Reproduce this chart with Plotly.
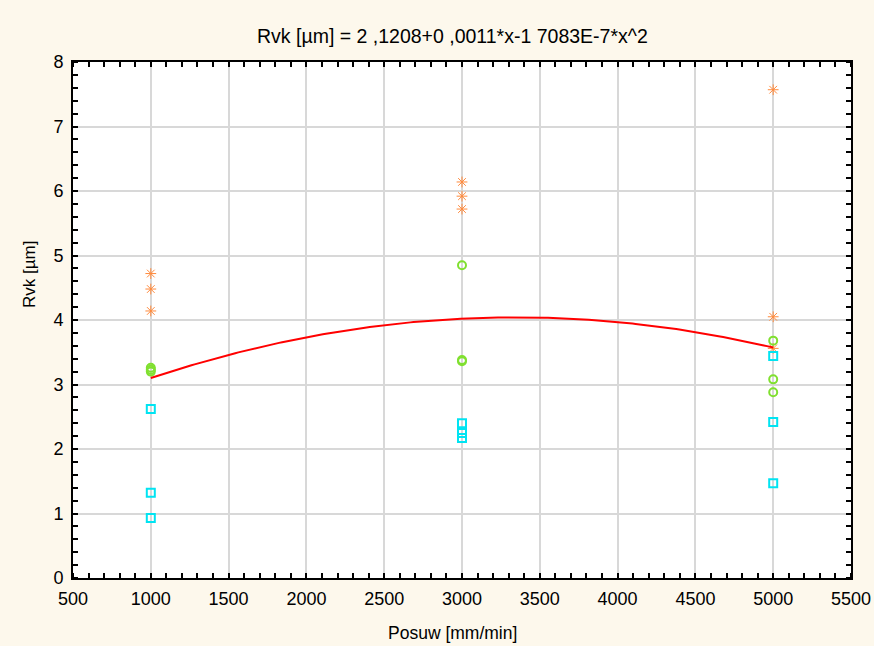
import numpy as np
import plotly.graph_objects as go

# Data
feed_orange = [1000, 1000, 1000, 3000, 3000, 3000, 5000, 5000, 5000]
rvk_orange = [4.72, 4.48, 4.14, 6.14, 5.92, 5.72, 7.57, 4.05, 3.56]

feed_green = [1000, 1000, 1000, 3000, 3000, 3000, 5000, 5000, 5000]
rvk_green = [3.26, 3.23, 3.20, 4.85, 3.38, 3.36, 3.68, 3.08, 2.88]

feed_cyan = [1000, 1000, 1000, 3000, 3000, 3000, 5000, 5000, 5000]
rvk_cyan = [2.62, 1.32, 0.93, 2.40, 2.25, 2.17, 3.44, 2.42, 1.47]

x_ticks = [500, 1000, 1500, 2000, 2500, 3000, 3500, 4000, 4500, 5000, 5500]
y_ticks = [0, 1, 2, 3, 4, 5, 6, 7, 8]

title_text = "Rvk [µm] = 2 ,1208+0 ,0011*x-1 7083E-7*x^2"
x_title = "Posuw [mm/min]"
y_title = "Rvk [µm]"

# quadratic regression over all points
all_x = np.array(feed_orange + feed_green + feed_cyan, dtype=float)
all_y = np.array(rvk_orange + rvk_green + rvk_cyan, dtype=float)
coef = np.polyfit(all_x, all_y, 2)
fit_x = np.linspace(min(all_x), max(all_x), 200)
fit_y = np.polyval(coef, fit_x)

fig = go.Figure()
fig.add_trace(go.Scatter(x=feed_orange, y=rvk_orange, mode="markers",
                         marker=dict(symbol="asterisk-open", size=9, color="#FF8A3C",
                                     line=dict(color="#FF8A3C", width=1)),
                         showlegend=False))
fig.add_trace(go.Scatter(x=feed_green, y=rvk_green, mode="markers",
                         marker=dict(symbol="circle-open", size=8, color="#80E030",
                                     line=dict(color="#80E030", width=2)),
                         showlegend=False))
fig.add_trace(go.Scatter(x=feed_cyan, y=rvk_cyan, mode="markers",
                         marker=dict(symbol="square-open", size=8, color="#00E4F2",
                                     line=dict(color="#00E4F2", width=2)),
                         showlegend=False))
fig.add_trace(go.Scatter(x=fit_x, y=fit_y, mode="lines",
                         line=dict(color="#FF0000", width=2),
                         showlegend=False))

font = "Liberation Sans, Arial, sans-serif"
axis_common = dict(
    showline=True, linecolor="black", linewidth=2, mirror="allticks",
    showgrid=True, gridcolor="#D8D8D8", gridwidth=2,
    ticks="", zeroline=False, automargin=False,
    tickfont=dict(family=font, size=18, color="black"),
)
fig.update_xaxes(range=[500, 5500], tickvals=x_ticks,
                 ticktext=[str(v) for v in x_ticks], ticklabelstandoff=3,
                 minor=dict(ticks="inside", dtick=100, tick0=500, ticklen=5,
                            tickcolor="black", tickwidth=2, showgrid=False),
                 **axis_common)
fig.update_yaxes(range=[0, 8], tickvals=y_ticks,
                 ticktext=[str(v) for v in y_ticks], ticklabelstandoff=4,
                 minor=dict(ticks="inside", dtick=0.2, tick0=0, ticklen=5,
                            tickcolor="black", tickwidth=2, showgrid=False),
                 **axis_common)

L, R, T, B = 73, 23, 62, 68
W, H = 874, 646
fig.update_layout(
    width=W, height=H,
    margin=dict(l=L, r=R, t=T, b=B),
    paper_bgcolor="#FDF8EC", plot_bgcolor="white",
    font=dict(family=font, color="black"),
)
pw, ph = W - L - R, H - T - B
def px(xp):
    return (xp - L) / pw
def py(yp):
    return (H - B - yp) / ph
fig.add_annotation(text=title_text, x=px(452), y=py(36), xref="paper", yref="paper",
                   xanchor="center", yanchor="middle",
                   showarrow=False, font=dict(family=font, size=19.5))
fig.add_annotation(text=x_title, x=px(452), y=py(633), xref="paper", yref="paper",
                   xanchor="center", yanchor="middle",
                   showarrow=False, font=dict(family=font, size=17.5))
fig.add_annotation(text=y_title, x=px(29), y=py(275), xref="paper", yref="paper",
                   xanchor="center", yanchor="middle",
                   showarrow=False, textangle=-90, font=dict(family=font, size=17))

fig.write_html("out.html", config={"displayModeBar": False},
               post_script="document.body.style.margin='0';"
                           "document.body.style.background='#FDF8EC';"
                           "document.body.style.overflow='hidden';")
